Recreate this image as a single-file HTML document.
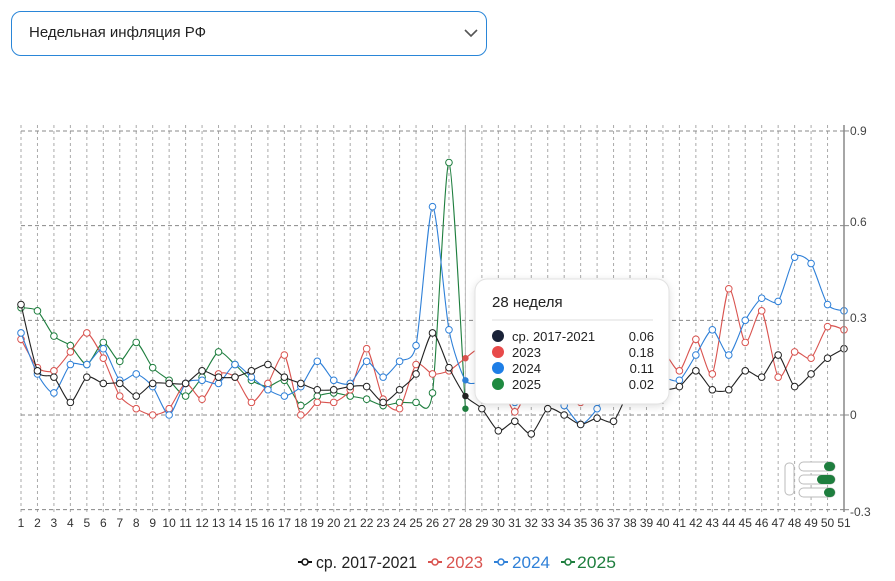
<!DOCTYPE html>
<html><head><meta charset="utf-8"><style>
html,body{margin:0;padding:0;background:#fff;width:895px;height:581px;overflow:hidden;font-family:"Liberation Sans",sans-serif;}
.dd{position:absolute;left:11px;top:11px;width:476px;height:45px;border:1.5px solid #2a86d8;border-radius:10px;box-sizing:border-box;}
.dd span{position:absolute;left:17px;top:12px;font-size:15px;color:#222;}
svg{position:absolute;left:0;top:0}
</style></head><body>
<div class="dd"><span>Недельная инфляция РФ</span>
<svg style="left:452px;top:16px" width="14" height="10" viewBox="0 0 14 10"><path d="M1 2 L7 8 L13 2" fill="none" stroke="#555" stroke-width="1.6"/></svg></div>
<svg id="ch" width="895" height="581" font-family="Liberation Sans, sans-serif">
<g id="grid"></g>
<g id="series"></g>
<line x1="844" y1="125" x2="844" y2="512" stroke="#888" stroke-width="1.5"/>
<g font-size="12" fill="#444">
<text x="850" y="135">0.9</text><text x="850" y="226">0.6</text><text x="850" y="322">0.3</text><text x="850" y="419">0</text><text x="850" y="516">-0.3</text>
</g>
<g font-size="12" fill="#333" text-anchor="middle">
<text x="21" y="527">1</text><text x="37.5" y="527">2</text><text x="53.9" y="527">3</text><text x="70.4" y="527">4</text><text x="86.8" y="527">5</text><text x="103.3" y="527">6</text><text x="119.8" y="527">7</text><text x="136.2" y="527">8</text><text x="152.7" y="527">9</text><text x="169.1" y="527">10</text><text x="185.6" y="527">11</text><text x="202.1" y="527">12</text><text x="218.5" y="527">13</text><text x="235" y="527">14</text><text x="251.4" y="527">15</text><text x="267.9" y="527">16</text><text x="284.4" y="527">17</text><text x="300.8" y="527">18</text><text x="317.3" y="527">19</text><text x="333.7" y="527">20</text><text x="350.2" y="527">21</text><text x="366.7" y="527">22</text><text x="383.1" y="527">23</text><text x="399.6" y="527">24</text><text x="416" y="527">25</text><text x="432.5" y="527">26</text><text x="449" y="527">27</text><text x="465.4" y="527">28</text><text x="481.9" y="527">29</text><text x="498.3" y="527">30</text><text x="514.8" y="527">31</text><text x="531.3" y="527">32</text><text x="547.7" y="527">33</text><text x="564.2" y="527">34</text><text x="580.6" y="527">35</text><text x="597.1" y="527">36</text><text x="613.6" y="527">37</text><text x="630" y="527">38</text><text x="646.5" y="527">39</text><text x="662.9" y="527">40</text><text x="679.4" y="527">41</text><text x="695.9" y="527">42</text><text x="712.3" y="527">43</text><text x="728.8" y="527">44</text><text x="745.2" y="527">45</text><text x="761.7" y="527">46</text><text x="778.2" y="527">47</text><text x="794.6" y="527">48</text><text x="811.1" y="527">49</text><text x="827.5" y="527">50</text><text x="844" y="527">51</text>
</g>
<g>
<rect x="785" y="463" width="9" height="32" rx="4" fill="#fff" stroke="#bbb"/>
<rect x="799" y="462" width="36" height="9" rx="4.5" fill="#fff" stroke="#bbb"/><rect x="824" y="462" width="11" height="9" rx="4.5" fill="#1e7e3e"/>
<rect x="799" y="475" width="36" height="9" rx="4.5" fill="#fff" stroke="#bbb"/><rect x="817" y="475" width="18" height="9" rx="4.5" fill="#1e7e3e"/>
<rect x="799" y="488" width="36" height="9" rx="4.5" fill="#fff" stroke="#bbb"/><rect x="824" y="488" width="11" height="9" rx="4.5" fill="#1e7e3e"/>
</g>
<g id="tip">
<rect x="475" y="279" width="194" height="125" rx="12" fill="#fff" stroke="#e2e2e2" style="filter:drop-shadow(0 2px 4px rgba(0,0,0,0.12))"/>
<text x="492" y="307" font-size="15" fill="#222">28 неделя</text>
<line x1="492" y1="320" x2="653" y2="320" stroke="#ddd"/>
<circle cx="498" cy="336" r="6" fill="#1a2238"/><circle cx="498" cy="352" r="6" fill="#e84a4a"/><circle cx="498" cy="368" r="6" fill="#1e7ee6"/><circle cx="498" cy="384" r="6" fill="#1e8a40"/>
<g font-size="13" fill="#222"><text x="512" y="341">ср. 2017-2021</text><text x="512" y="357">2023</text><text x="512" y="373">2024</text><text x="512" y="389">2025</text></g>
<g font-size="13" fill="#222" text-anchor="end"><text x="654" y="341">0.06</text><text x="654" y="357">0.18</text><text x="654" y="373">0.11</text><text x="654" y="389">0.02</text></g>
</g>
<g font-size="17">
<line x1="298" y1="562" x2="312" y2="562" stroke="#111" stroke-width="2"/><circle cx="305" cy="562" r="3" fill="#fff" stroke="#111" stroke-width="1.5"/>
<text x="316" y="568" fill="#222" textLength="101" lengthAdjust="spacingAndGlyphs">ср. 2017-2021</text>
<line x1="428" y1="562" x2="442" y2="562" stroke="#d9534f" stroke-width="2"/><circle cx="435" cy="562" r="3" fill="#fff" stroke="#d9534f" stroke-width="1.5"/>
<text x="446" y="568" fill="#d9534f" textLength="37" lengthAdjust="spacingAndGlyphs">2023</text>
<line x1="494" y1="562" x2="508" y2="562" stroke="#2f80d8" stroke-width="2"/><circle cx="501" cy="562" r="3" fill="#fff" stroke="#2f80d8" stroke-width="1.5"/>
<text x="512" y="568" fill="#2f80d8" textLength="38" lengthAdjust="spacingAndGlyphs">2024</text>
<line x1="561" y1="562" x2="575" y2="562" stroke="#1e7e3e" stroke-width="2"/><circle cx="568" cy="562" r="3" fill="#fff" stroke="#1e7e3e" stroke-width="1.5"/>
<text x="577" y="568" fill="#1e7e3e" textLength="39" lengthAdjust="spacingAndGlyphs">2025</text>
</g>
</svg>
<script>
var NS="http://www.w3.org/2000/svg";
function X(n){return 21+(n-1)*16.46;}
function Y(v){return 415-v*315.6;}
function el(t,a,p){var e=document.createElementNS(NS,t);for(var k in a)e.setAttribute(k,a[k]);p.appendChild(e);return e;}
var g=document.getElementById('grid');
for(var n=1;n<=51;n++){el('line',{x1:X(n),y1:125,x2:X(n),y2:512,stroke:'#aaa','stroke-dasharray':'3,3','stroke-width':1},g);}
[0.9,0.6,0.3,0,-0.3].forEach(function(v){el('line',{x1:21,y1:Y(v),x2:844,y2:Y(v),stroke:'#888','stroke-dasharray':'4,3','stroke-width':1},g);});
[0.9,0.6,0.3,0,-0.3].forEach(function(v){el('line',{x1:844,y1:Y(v),x2:849,y2:Y(v),stroke:'#888'},g);});
el('line',{x1:465.4,y1:125,x2:465.4,y2:512,stroke:'#bbb','stroke-width':1},g);
var S=[
['#1e7e3e',[0.34,0.33,0.25,0.22,0.16,0.23,0.17,0.23,0.15,0.11,0.06,0.12,0.20,0.16,0.11,0.09,0.11,0.03,0.06,0.07,0.06,0.05,0.03,0.04,0.04,0.07,0.80,0.02]],
['#d9534f',[0.24,0.15,0.14,0.20,0.26,0.18,0.06,0.02,0.00,0.02,0.10,0.05,0.13,0.12,0.04,0.10,0.19,0.00,0.04,0.04,0.08,0.21,0.05,0.02,0.16,0.13,0.14,0.18,0.21,0.12,0.01,0.10,0.07,0.06,0.04,0.08,0.10,0.12,0.15,0.20,0.14,0.24,0.13,0.40,0.23,0.33,0.12,0.20,0.18,0.28,0.27]],
['#2f80d8',[0.26,0.13,0.07,0.16,0.16,0.21,0.11,0.13,0.09,0.00,0.10,0.11,0.10,0.16,0.12,0.08,0.06,0.09,0.17,0.11,0.10,0.17,0.12,0.17,0.22,0.66,0.27,0.11,0.10,0.05,0.04,0.05,0.06,0.03,-0.03,0.02,0.12,0.15,0.13,0.12,0.11,0.19,0.27,0.19,0.30,0.37,0.36,0.50,0.48,0.35,0.33]],
['#222',[0.35,0.14,0.12,0.04,0.12,0.10,0.10,0.06,0.10,0.10,0.10,0.14,0.12,0.12,0.14,0.16,0.12,0.10,0.08,0.08,0.09,0.09,0.04,0.08,0.13,0.26,0.15,0.06,0.02,-0.05,-0.02,-0.06,0.02,0.00,-0.03,-0.01,-0.02,0.08,0.09,0.08,0.09,0.14,0.08,0.08,0.14,0.12,0.19,0.09,0.13,0.18,0.21]]
];
var sg=document.getElementById('series');
S.forEach(function(s){
 var P=s[1].map(function(v,i){return [X(i+1),Y(v)];});
 var d='M'+P[0][0].toFixed(1)+' '+P[0][1].toFixed(1);
 var t=0.12;
 for(var i=0;i<P.length-1;i++){
  var p0=P[i-1]||P[i],p1=P[i],p2=P[i+1],p3=P[i+2]||P[i+1];
  var c1x=p1[0]+(p2[0]-p0[0])*t,c1y=p1[1]+(p2[1]-p0[1])*t;
  var c2x=p2[0]-(p3[0]-p1[0])*t,c2y=p2[1]-(p3[1]-p1[1])*t;
  d+=' C'+c1x.toFixed(1)+' '+c1y.toFixed(1)+' '+c2x.toFixed(1)+' '+c2y.toFixed(1)+' '+p2[0].toFixed(1)+' '+p2[1].toFixed(1);
 }
 el('path',{d:d,fill:'none',stroke:s[0],'stroke-width':1.1},sg);
 s[1].forEach(function(v,i){ if(i==27){el('circle',{cx:X(28),cy:Y(v),r:3.2,fill:s[0]},sg);} else el('circle',{cx:X(i+1),cy:Y(v),r:3.3,fill:'#fff',stroke:s[0],'stroke-width':1},sg);});
});
document.getElementById('ch').appendChild(document.getElementById('tip'));
</script>
</body></html>
